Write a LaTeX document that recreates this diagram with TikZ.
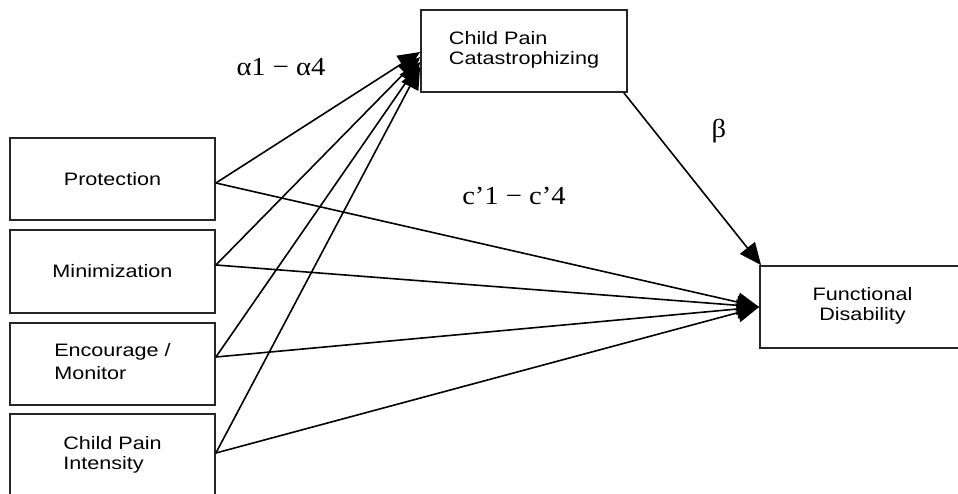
\documentclass[tikz,border=0pt]{standalone}
\usepackage{fontspec}
\usetikzlibrary{arrows.meta}
\newfontfamily\boxfont[FakeStretch=1.2]{Liberation Sans}
\newfontfamily\lblfont[FakeStretch=1.1]{Liberation Serif}
\begin{document}
\begin{tikzpicture}[x=1pt,y=-1pt,
  box/.style={draw=black!85, line width=1.8pt, minimum width=205pt, minimum height=82pt,
    inner sep=0pt, font=\boxfont\fontsize{18}{20}\selectfont},
  path/.style={line width=1.6pt, -{Triangle[length=22pt,width=19pt]}},
  lbl/.style={font=\lblfont\fontsize{26}{28}\selectfont, inner sep=0pt}]
\clip (0,0) rectangle (958,494);
\fill[white] (0,0) rectangle (958,494);
\node[box] (prot) at (112.5,179) {Protection};
\node[box, minimum height=83pt] (mini) at (112.5,271.5) {Minimization};
\node[box] (enc) at (112.5,364) {\begin{tabular}{@{}l@{}}Encourage /\\[3pt]Monitor\end{tabular}};
\node[box, minimum height=83pt] (cpi) at (112.5,455.5) {\begin{tabular}{@{}l@{}}Child Pain\\Intensity\end{tabular}};
\node[box, minimum width=206pt] (cat) at (524,51) {\begin{tabular}{@{}l@{}}Child Pain\\Catastrophizing\end{tabular}};
\node[box] (fd) at (862.5,307) {\begin{tabular}{@{}c@{}}Functional\\Disability\end{tabular}};
\node[lbl] (alpha) at (281,67) {α1 − α4};
\node[lbl] (beta) at (719,131) {β};
\node[lbl] (cprime) at (514,196) {c’1 − c’4};
\draw[path] ([yshift=-4pt]prot.east) -- ([yshift=-1pt]cat.west);
\draw[path] ([yshift=6.5pt]mini.east) -- ([yshift=-6pt]cat.west);
\draw[path] ([yshift=7pt]enc.east) -- ([yshift=-11pt]cat.west);
\draw[path] ([yshift=2.5pt]cpi.east) -- ([yshift=-16pt]cat.west);
\draw[path] ([yshift=-4pt]prot.east) -- (fd.west);
\draw[path] ([yshift=6.5pt]mini.east) -- (fd.west);
\draw[path] ([yshift=7pt]enc.east) -- (fd.west);
\draw[path] ([yshift=2.5pt]cpi.east) -- (fd.west);
\draw[path] ([xshift=-4pt]cat.south east) -- ([xshift=2pt]fd.north west);
\end{tikzpicture}
\end{document}
